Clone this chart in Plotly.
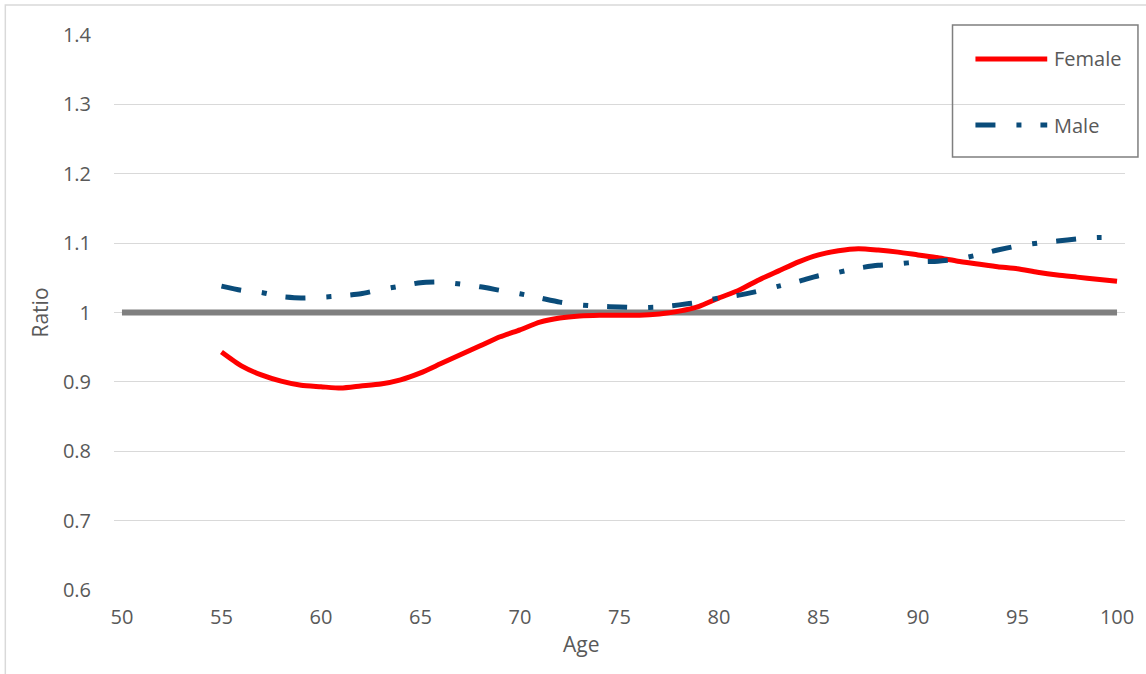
import plotly.graph_objects as go

# Ratio by age, 55 to 100
ages = list(range(55, 101))
female = [0.943, 0.923, 0.910, 0.901, 0.895, 0.893, 0.891, 0.894, 0.897, 0.903,
          0.913, 0.926, 0.939, 0.952, 0.965, 0.975, 0.986, 0.992, 0.995, 0.996,
          0.996, 0.996, 0.998, 1.002, 1.009, 1.021, 1.032, 1.047, 1.060, 1.073,
          1.083, 1.089, 1.092, 1.090, 1.087, 1.083, 1.079, 1.074, 1.070, 1.066,
          1.063, 1.058, 1.054, 1.051, 1.048, 1.045]
male = [1.038, 1.032, 1.029, 1.023, 1.021, 1.022, 1.024, 1.027, 1.033, 1.038,
        1.043, 1.044, 1.041, 1.037, 1.032, 1.027, 1.021, 1.015, 1.011, 1.009,
        1.008, 1.007, 1.008, 1.011, 1.015, 1.021, 1.025, 1.031, 1.038, 1.045,
        1.053, 1.058, 1.064, 1.068, 1.070, 1.073, 1.074, 1.077, 1.083, 1.090,
        1.096, 1.100, 1.103, 1.106, 1.108, 1.108]
baseline_ages = [50, 100]
baseline = [1.0, 1.0]

x_ticks = list(range(50, 101, 5))
y_ticks = [0.6, 0.7, 0.8, 0.9, 1.0, 1.1, 1.2, 1.3, 1.4]
y_labels = ["0.6", "0.7", "0.8", "0.9", "1", "1.1", "1.2", "1.3", "1.4"]

TEXT = "#595959"
FONT = "Open Sans"
RED = "#ff0000"
BLUE = "#0a4c7a"
MALE_DASH = "20px,21px,5px,19px"

# plot-area geometry in pixels, used to place the hand-built legend and titles
W, H = 1146, 674
L, R, T, B = 114, 18, 35, 84
PW, PH = W - L - R, H - T - B


def px(xp):
    return (xp - L) / PW


def py(yp):
    return (H - B - yp) / PH


fig = go.Figure()
fig.add_trace(go.Scatter(x=baseline_ages, y=baseline, mode="lines",
                         line=dict(color="#808080", width=6),
                         showlegend=False, hoverinfo="skip"))
fig.add_trace(go.Scatter(x=ages, y=female, mode="lines", name="Female",
                         line=dict(color=RED, width=5, shape="spline", smoothing=0.6),
                         showlegend=False))
fig.add_trace(go.Scatter(x=ages, y=male, mode="lines", name="Male",
                         line=dict(color=BLUE, width=5, dash=MALE_DASH,
                                   shape="spline", smoothing=0.6),
                         showlegend=False))

shapes = [
    # chart frame
    dict(type="rect", xref="paper", yref="paper",
         x0=px(5), x1=px(1160), y0=py(690), y1=py(5),
         line=dict(color="#d9d9d9", width=1.5), fillcolor="rgba(0,0,0,0)", layer="below"),
    # legend box
    dict(type="rect", xref="paper", yref="paper",
         x0=px(955), x1=px(1141), y0=py(157), y1=py(25),
         line=dict(color="#7f7f7f", width=1.5), fillcolor="rgba(0,0,0,0)"),
    dict(type="line", xref="paper", yref="paper",
         x0=px(978), x1=px(1050), y0=py(59), y1=py(59),
         line=dict(color=RED, width=5)),
    dict(type="line", xref="paper", yref="paper",
         x0=px(978), x1=px(1050), y0=py(125), y1=py(125),
         line=dict(color=BLUE, width=5, dash=MALE_DASH)),
]

annotations = [
    dict(text="Female", xref="paper", yref="paper", x=px(1055), y=py(58),
         xanchor="left", yanchor="middle", showarrow=False,
         font=dict(family=FONT, size=20, color=TEXT)),
    dict(text="Male", xref="paper", yref="paper", x=px(1055), y=py(125),
         xanchor="left", yanchor="middle", showarrow=False,
         font=dict(family=FONT, size=20, color=TEXT)),
    # x-axis title
    dict(text="Age", xref="paper", yref="paper", x=px(582), y=py(644),
         xanchor="center", yanchor="middle", showarrow=False,
         font=dict(family=FONT, size=21, color=TEXT)),
]

fig.update_layout(
    width=W, height=H,
    margin=dict(l=L, r=R, t=T, b=B),
    paper_bgcolor="white", plot_bgcolor="white",
    font=dict(family=FONT, size=20, color=TEXT),
    shapes=shapes, annotations=annotations,
    showlegend=False,
)
fig.update_xaxes(range=[49.6, 100.4], tickvals=x_ticks, showgrid=False,
                 zeroline=False, showline=False, ticks="",
                 ticklabelstandoff=13)
fig.update_yaxes(range=[0.6, 1.4], tickvals=y_ticks, ticktext=y_labels,
                 showgrid=True, gridcolor="#d9d9d9", gridwidth=1,
                 zeroline=False, showline=False, ticks="",
                 ticklabelstandoff=22,
                 title=dict(text="Ratio", standoff=8,
                            font=dict(family=FONT, size=21, color=TEXT)))

fig.write_html("out.html")
